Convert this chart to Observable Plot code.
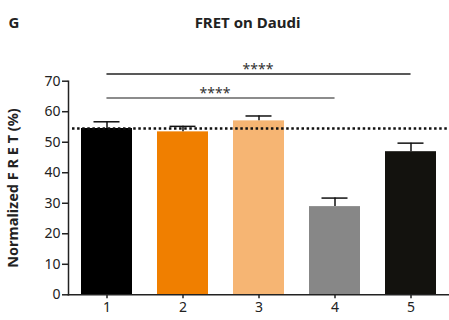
<!DOCTYPE html>
<html><head><meta charset="utf-8">
<script src="https://cdn.jsdelivr.net/npm/d3@7"></script>
<script src="https://cdn.jsdelivr.net/npm/@observablehq/plot@0.6"></script>
<style>body{margin:0;background:#fff;} svg{font-family:"Noto Sans",sans-serif;}</style>
</head><body><div id="chart"></div>
<script>
const categories = ["1","2","3","4","5"];
const means = [54.5, 53.4, 57.0, 28.9, 46.9];
const errors = [2.2, 1.8, 1.6, 2.8, 2.8];
const colors = ["#000000", "#f07f00", "#f6b573", "#878787", "#13120e"];
const yTicks = [0,10,20,30,40,50,60,70];
const reference = 54.5;
const sigFrom = ["1", "1"];
const sigTo = ["5", "4"];
const sigLevels = [72.4, 64.5];
const sigLabels = ["****", "****"];
const sigColors = ["#222", "#666"];

const data = categories.map((c,i)=>({cat:c, mean:means[i], top:means[i]+errors[i], color:colors[i]}));
const sig = sigFrom.map((f,i)=>({from:f, to:sigTo[i], level:sigLevels[i], label:sigLabels[i], color:sigColors[i], mid:"3"}));
const bw = 76*0.67;

const plot = Plot.plot({
  width: 449, height: 320,
  marginLeft: 68, marginRight: 1, marginTop: 80.7, marginBottom: 25.7,
  style: {fontFamily: "Noto Sans", fontSize: "13px", color: "#222"},
  x: {domain: categories, paddingInner: 0.33, paddingOuter: 0.165, label: null},
  y: {domain: [0,70], ticks: yTicks, label: null},
  marks: [
    Plot.barY(data, {x:"cat", y:"mean", fill:"color"}),
    Plot.ruleX(data, {x:"cat", y1:"mean", y2:"top", stroke:"#111", strokeWidth:1.5}),
    Plot.tickY(data, {x:"cat", y:"top", stroke:"#111", strokeWidth:1.5, insetLeft:12.5, insetRight:12.5}),
    Plot.ruleY([reference], {stroke:"#111", strokeWidth:2.5, strokeDasharray:"2.5,2.6", insetLeft:4}),
    Plot.ruleY(sig, {y:"level", x1:"from", x2:"to", stroke:"color", strokeWidth:1.5, insetLeft:bw/2, insetRight:bw/2}),
    Plot.text(sig.slice(0,1), {x:"mid", y:"level", text:"label", fontSize:14, fill:"#333", dx:-1, dy:-4}),
    Plot.text(sig.slice(1), {x:"mid", y:"level", text:"label", fontSize:14, fill:"#333", dx:-44, dy:-4}),
    Plot.axisY({ticks: yTicks, tickSize:6, tickPadding:2, fontSize:14, stroke:"#222", strokeWidth:1.5, label:null}),
    Plot.axisX({tickSize:4, tickPadding:3, fontSize:14, stroke:"#222", strokeWidth:1.5, label:null}),
    Plot.frame({anchor:"left", stroke:"#222", strokeWidth:1.5}),
    Plot.frame({anchor:"bottom", stroke:"#222", strokeWidth:1.5}),
    Plot.text(["Normalized F R E T (%)"], {frameAnchor:"left", textAnchor:"middle", rotate:-90, dx:-55, fontSize:14.5, fontWeight:"bold", fill:"#222"}),
    Plot.text(["FRET on Daudi"], {frameAnchor:"top", dx:-11, dy:-64, fontSize:15, fontWeight:"bold", fill:"#222"}),
    Plot.text(["G"], {frameAnchor:"top-left", textAnchor:"start", dx:-60, dy:-64, fontSize:15, fontWeight:"bold", fill:"#222"})
  ]
});
document.getElementById("chart").append(plot);
</script></body></html>
